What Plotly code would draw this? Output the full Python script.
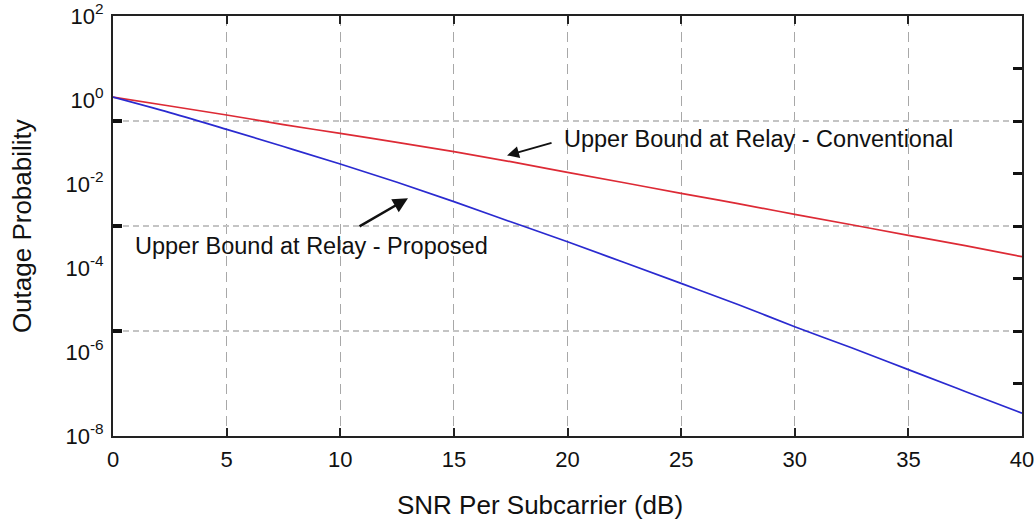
import plotly.graph_objects as go

snr_db = [0, 2.5, 5, 7.5, 10, 12.5, 15, 17.5, 20, 22.5, 25, 27.5, 30, 32.5, 35, 37.5, 40]
conventional = [1.17, 0.72, 0.44, 0.26, 0.16, 0.098, 0.059, 0.034, 0.019, 0.0107, 0.0060,
                0.0034, 0.0019, 0.00107, 0.0006, 0.00034, 0.000186]
proposed = [1.17, 0.50, 0.20, 0.078, 0.030, 0.011, 0.0038, 0.00126, 0.00042, 1.35e-4, 4.3e-5,
            1.35e-5, 4.0e-6, 1.26e-6, 3.8e-7, 1.15e-7, 3.5e-8]

x_ticks = [0, 5, 10, 15, 20, 25, 30, 35, 40]
y_tick_vals = [1e2, 1e0, 1e-2, 1e-4, 1e-6, 1e-8]
y_tick_text = ["10<sup>2</sup>", "10<sup>0</sup>", "10<sup>-2</sup>", "10<sup>-4</sup>",
               "10<sup>-6</sup>", "10<sup>-8</sup>"]
grid_y_vals = [10 ** -0.5, 1e-3, 10 ** -5.5]
right_tick_vals = [10 ** 0.75, 10 ** -0.5, 10 ** -1.75, 1e-3, 10 ** -4.25, 10 ** -5.5, 10 ** -6.75]

FONT = "Liberation Sans, Arial, sans-serif"
AX = "#222222"

fig = go.Figure()
fig.add_trace(go.Scatter(x=snr_db, y=conventional, mode="lines", line=dict(color="#dd2a35", width=1.7),
                         line_shape="spline", name="Upper Bound at Relay - Conventional", showlegend=False))
fig.add_trace(go.Scatter(x=snr_db, y=proposed, mode="lines", line=dict(color="#2a2ad0", width=1.7),
                         line_shape="spline", name="Upper Bound at Relay - Proposed", showlegend=False))

fig.update_layout(
    width=1036, height=524,
    margin=dict(l=113, r=14, t=16, b=88),
    paper_bgcolor="white", plot_bgcolor="white",
    font=dict(family=FONT, size=22, color="#111111"),
    xaxis=dict(
        range=[0, 40], tickvals=x_ticks, ticks="inside", ticklen=8, tickwidth=2, tickcolor=AX,
        showline=True, linecolor=AX, linewidth=2, mirror="ticks",
        showgrid=True, gridcolor="#a8a8a8", gridwidth=1, griddash="10px,6px",
        zeroline=False, tickfont=dict(size=22, family=FONT),
        ticklabelstandoff=3, automargin=False,
    ),
    yaxis=dict(
        type="log", range=[-8, 2], tickvals=y_tick_vals, ticktext=y_tick_text, ticks="",
        showline=True, linecolor=AX, linewidth=2, mirror=True,
        showgrid=False, zeroline=False, tickfont=dict(size=22, family=FONT),
        ticklabelstandoff=3, ticklabeloverflow="allow", automargin=False,
    ),
    yaxis2=dict(
        type="log", range=[-8, 2], overlaying="y", side="left", tickvals=grid_y_vals,
        ticks="inside", ticklen=9, tickwidth=4, tickcolor="#111111", showticklabels=False,
        showgrid=True, gridcolor="#c4c4c4", gridwidth=2, griddash="6px,4px",
        showline=False, zeroline=False, automargin=False,
    ),
    yaxis3=dict(
        type="log", range=[-8, 2], overlaying="y", side="right", tickvals=right_tick_vals,
        ticks="inside", ticklen=9, tickwidth=2.5, tickcolor="#111111", showticklabels=False,
        showgrid=False, showline=False, zeroline=False, automargin=False,
    ),
)

fig.add_trace(go.Scatter(x=[None], y=[None], yaxis="y2", showlegend=False, hoverinfo="skip"))
fig.add_trace(go.Scatter(x=[None], y=[None], yaxis="y3", showlegend=False, hoverinfo="skip"))

# axis titles
fig.add_annotation(x=0.47, y=-0.165, xref="paper", yref="paper", text="SNR Per Subcarrier (dB)",
                   showarrow=False, xanchor="center", yanchor="middle", font=dict(size=26, family=FONT, color="#111"))
fig.add_annotation(x=-0.1, y=0.5, xref="paper", yref="paper", text="Outage Probability", textangle=-90,
                   showarrow=False, xanchor="center", yanchor="middle", font=dict(size=26, family=FONT, color="#111"))

# text labels
fig.add_annotation(x=19.76, y=-0.93, xref="x", yref="y", text="Upper Bound at Relay - Conventional",
                   showarrow=False, xanchor="left", yanchor="middle", font=dict(size=23.5, family=FONT, color="#111"))
fig.add_annotation(x=0.88, y=-3.47, xref="x", yref="y", text="Upper Bound at Relay - Proposed",
                   showarrow=False, xanchor="left", yanchor="middle", font=dict(size=23.5, family=FONT, color="#111"))
# arrows
fig.add_annotation(x=17.34, y=-1.32, xref="x", yref="y", text="", showarrow=True,
                   ax=46, ay=-13, arrowhead=2, arrowsize=1.2, arrowwidth=2, arrowcolor="#111")
fig.add_annotation(x=12.98, y=-2.34, xref="x", yref="y", text="", showarrow=True,
                   ax=-50, ay=29, arrowhead=2, arrowsize=1.2, arrowwidth=2.5, arrowcolor="#111")

fig.write_html("out.html")
